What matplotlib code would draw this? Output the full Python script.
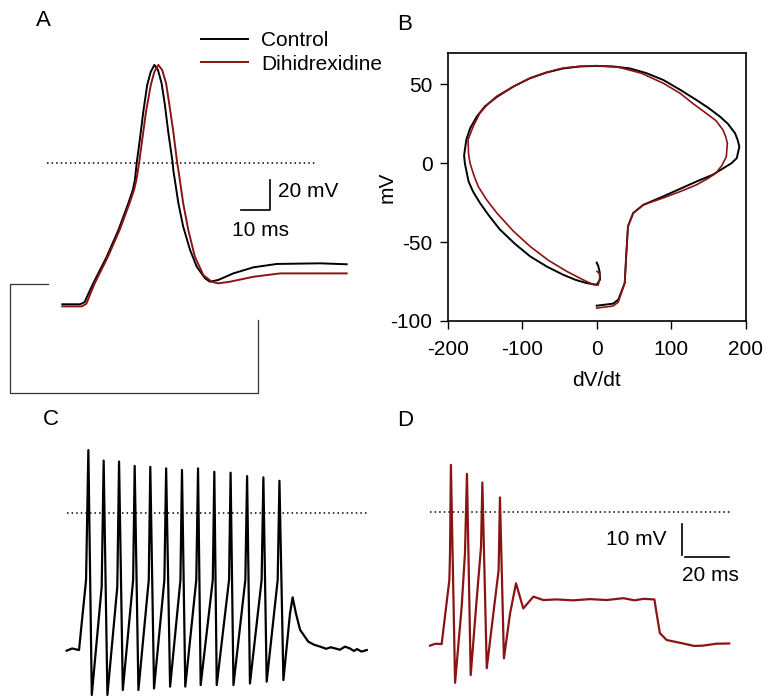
import matplotlib
matplotlib.use("Agg")
import matplotlib.pyplot as plt
import numpy as np

plt.rcParams['font.family'] = ['Liberation Sans', 'DejaVu Sans']
plt.rcParams['font.size'] = 15
plt.rcParams['axes.unicode_minus'] = False

W, H = 766, 697
RED = '#8a1414'

# ---- panel A: single action potential (ms, mV) ----
ctl_t = [0.1, 6.0, 7.5, 10.4, 14.9, 18.8, 22.1, 23.6, 24.3, 24.9, 26.0, 27.1, 28.4, 29.6, 30.8,
         32.0, 33.2, 34.3, 35.4, 36.9, 37.1, 38.8, 40.4, 42.7, 44.9, 47.7, 49.3, 52.1, 57.1,
         63.8, 71.6, 86.0, 94.9]
ctl_v = [-88.3, -88.3, -87.0, -75.2, -58.6, -41.9, -25.2, -16.9, -10.6, 0.0, 15.4, 32.1, 48.8, 57.1, 61.3,
         58.1, 49.8, 36.3, 19.6, 0.0, -4.4, -25.2, -39.8, -54.4, -64.8, -72.1, -74.2, -73.1, -69.0,
         -65.2, -63.1, -62.7, -63.3]
dhx_t = [0.1, 6.6, 8.1, 10.9, 15.3, 19.2, 22.5, 24.0, 24.8, 25.7, 26.8, 28.0, 29.6, 30.8, 32.1,
         33.4, 34.7, 35.8, 37.1, 38.4, 38.8, 40.4, 42.1, 44.3, 47.1, 49.9, 52.1, 56.0, 63.8,
         72.7, 94.9]
dhx_v = [-89.6, -89.6, -88.0, -75.2, -58.6, -41.9, -25.2, -16.9, -10.6, 0.0, 15.4, 32.1, 48.8, 57.1, 61.3,
         58.1, 49.8, 36.3, 19.6, 0.0, -4.4, -25.2, -41.9, -58.6, -70.0, -74.2, -75.2, -74.2, -71.1,
         -69.0, -69.0]
# current step drawn under the trace
stim_t = [-4.7, -17.3, -17.3, 65.3, 65.3]
stim_v = [-75.6, -75.6, -143.8, -143.8, -98.1]

# ---- panel B: phase plot (dV/dt, mV) ----
ph_ctl_x = [0, 22, 29, 37.6, 39.8, 42, 49, 62.6, 89.5, 134, 155, 170, 181, 188, 191.5, 189, 185.7,
            176, 165.5, 150, 134, 112, 89.5, 67, 44.7, 22, 0, -22, -45, -67, -89.5, -112, -134,
            -150, -161, -170, -175, -178, -177, -172, -166, -157, -145, -130, -110, -89.5, -67, -45,
            -28, -13.4, 0, 4.5, 4, 2.2, 0]
ph_ctl_y = [-90.3, -89, -86.5, -76, -57, -40, -31.6, -26.4, -21, -11.6, -7.5, -3.2, 0, 3.2, 10.5, 15, 19,
            25, 29.5, 35, 40, 46.5, 52.7, 57, 60, 61.3, 61.6, 61.3, 60, 57.5, 53.8, 48.5, 42,
            36, 29.5, 22, 14.8, 5, 0, -11.6, -18, -25, -33, -42, -51, -59, -65.5, -70.7,
            -74, -76, -77, -73.8, -69, -65.4, -63]
ph_dhx_x = [0, 22, 29, 37.6, 39.8, 42, 49, 62.6, 89.5, 112, 134, 150, 160, 168, 174, 175.4, 173,
            169.6, 160, 147, 130, 111.9, 90, 60, 30, 0, -22, -45, -67, -89.5, -112, -134,
            -147, -157, -166, -172.7, -172, -170, -165, -159, -148, -134, -112, -89.5, -65, -40,
            -20, -4.5, 2, 4.5, 3, 0.4]
ph_dhx_y = [-91.8, -90.5, -88, -76, -57, -40, -31.6, -26.4, -22, -18, -13.7, -9.5, -6.3, -1.5, 4.2, 12.7, 17,
            21, 27, 31.6, 37.5, 44.3, 50.5, 57, 60.7, 61.8, 61.4, 60.3, 57.6, 54, 48.5, 42.5,
            37, 31.6, 23, 14.8, 6, 0, -7.5, -14.8, -23, -31.6, -43, -52.7, -61.5, -68.6,
            -73.5, -77, -77.3, -71.7, -69.5, -68.6]

# ---- panel C: control spike train (ms, mV) ----
c_t = [0, 2.5, 5.6, 8.8, 9.85, 11.4, 15.9, 16.8, 18.5, 23.0, 23.8, 25.5, 30.2, 30.9, 32.6,
       37.3, 38.0, 39.7, 44.4, 45.2, 47.0, 51.7, 52.4, 53.9, 58.9, 59.7, 60.9,
       66.4, 67.1, 68.2, 73.8, 74.5, 75.8, 81.2, 82.0, 83.3, 88.6, 89.4, 90.9,
       95.9, 96.7, 98.5, 101.5, 102.7, 104.2, 106.1, 109.8, 112.5, 115.2, 118.0, 120.0, 124.2,
       126.5, 128.8, 130.5, 132.0, 134.0, 136.4]
c_v = [-44.5, -43.8, -44.3, -21.7, 20.2, -58.8, -23.9, 16.8, -58.8, -23.9, 16.5, -57.2, -21.7, 15.1, -57.2,
       -21.7, 14.8, -56.7, -21.7, 14.3, -56.1, -21.7, 13.8, -56.1, -21.7, 14.3, -55.6,
       -21.7, 13.2, -55.6, -21.7, 12.9, -55.6, -21.7, 11.8, -55.1, -21.7, 11.4, -54.5,
       -21.7, 10.3, -54.0, -32.5, -27.3, -32.5, -37.8, -41.6, -42.6, -43.2, -43.9, -43.4, -44.2,
       -43.2, -43.8, -44.6, -44.0, -44.8, -44.3]

# ---- panel D: dihidrexidine spike train (ms, mV) ----
d_t = [0, 2.5, 5.3, 8.8, 9.1, 9.5, 11.4, 14.4, 15.9, 16.8, 18.5, 21.2, 23.2, 23.8, 25.8, 28.8, 31.2, 31.8,
       33.6, 36.4, 39.1, 42.4, 47.0, 51.5, 57.6, 65.0, 72.7, 80.3, 87.9, 93.0, 97.0, 102.0,
       103.0, 104.5, 107.6, 115.0, 120.0, 124.2, 130.0, 136.0]
d_v = [-43.2, -42.6, -42.7, -22.0, -13.4, 15.1, -55.2, -30.6, -13.4, 12.2, -52.7, -28.5, -11.3, 9.4, -50.5,
       -32.8, -18.8, 4.6, -47.3, -32.8, -23.1, -31.2, -27.4, -28.5, -28.3, -28.6, -28.2, -28.5, -27.9, -28.6,
       -28.1, -28.3, -32.8, -39.2, -41.4, -42.5, -43.3, -43.2, -42.6, -42.5]


def panel(x0, y0, x1, y1, t_at, px_per_ms, v0_py, px_per_mv):
    # axes over a pixel box, scaled in ms / mV
    ax = fig.add_axes([x0 / W, 1 - y1 / H, (x1 - x0) / W, (y1 - y0) / H])
    ax.set_xlim((x0 - t_at) / px_per_ms, (x1 - t_at) / px_per_ms)
    ax.set_ylim((v0_py - y1) / px_per_mv, (v0_py - y0) / px_per_mv)
    ax.axis('off')
    return ax


fig = plt.figure(figsize=(W / 100, H / 100), dpi=100)

# A
axA = panel(0, 0, 380, 400, 62, 3.0, 163, 1.6)
axA.plot(stim_t, stim_v, color='#333333', lw=0.9, clip_on=False)
axA.plot([-5, 85], [0, 0], color='black', lw=1.1, ls=(0, (1, 2)))
l1, = axA.plot(ctl_t, ctl_v, color='black', lw=1.4, label='Control')
l2, = axA.plot(dhx_t, dhx_v, color=RED, lw=1.4, label='Dihidrexidine')
axA.plot([59.7, 69.3, 69.3], [-29.4, -29.4, -10.6], color='black', lw=1.2)
axA.text(72.1, -18.0, '20 mV', ha='left', va='center')
axA.text(66.2, -41.9, '10 ms', ha='center', va='center')
axA.legend(handles=[l1, l2], loc='upper left', bbox_to_anchor=(201 / W, 1 - 31 / H),
           bbox_transform=fig.transFigure, frameon=False, borderpad=0, borderaxespad=0,
           handlelength=2.24, handletextpad=0.64, labelspacing=0.22)

# B
axB = fig.add_axes([447.7 / W, 1 - 321 / H, 298 / W, 268.3 / H])
axB.plot(ph_ctl_x, ph_ctl_y, color='black', lw=1.4)
axB.plot(ph_dhx_x, ph_dhx_y, color=RED, lw=1.2)
axB.set_xlim(-200, 200)
axB.set_ylim(-100, 70)
axB.set_xticks([-200, -100, 0, 100, 200])
axB.set_yticks([-100, -50, 0, 50])
axB.tick_params(axis='x', direction='out', length=6, width=1, pad=8)
axB.tick_params(axis='y', direction='out', length=6, width=1, pad=5)
for s in axB.spines.values():
    s.set_linewidth(1.2)
axB.set_xlabel('dV/dt')
axB.set_ylabel('mV')
axB.xaxis.set_label_coords(0.5, -0.185)
axB.yaxis.set_label_coords(-0.17, 0.5)

# C
axC = panel(0, 430, 383, 697, 66.7, 2.2, 512.7, 3.1)
axC.plot([0, 137], [0, 0], color='black', lw=1.1, ls=(0, (1, 2)))
axC.plot(c_t, c_v, color='black', lw=1.6, clip_on=False)

# D
axD = panel(383, 430, 766, 697, 430, 2.2, 511.7, 3.1)
axD.plot([0, 137], [0, 0], color='black', lw=1.1, ls=(0, (1, 2)))
axD.plot(d_t, d_v, color=RED, lw=1.6, clip_on=False)
axD.plot([114.5, 114.5], [-4.0, -14.0], color='black', lw=1.2)
axD.plot([115.9, 135.9], [-14.7, -14.7], color='black', lw=1.2)
axD.text(107.7, -9.1, '10 mV', ha='right', va='center')
axD.text(127.3, -20.5, '20 ms', ha='center', va='center')

for lab, x, y in [('A', 43, 20), ('B', 405, 25), ('C', 51, 419.5), ('D', 405, 420)]:
    fig.text(x / W, 1 - y / H, lab, ha='center', va='center', fontsize=16)

fig.savefig('out.png', dpi=100)
